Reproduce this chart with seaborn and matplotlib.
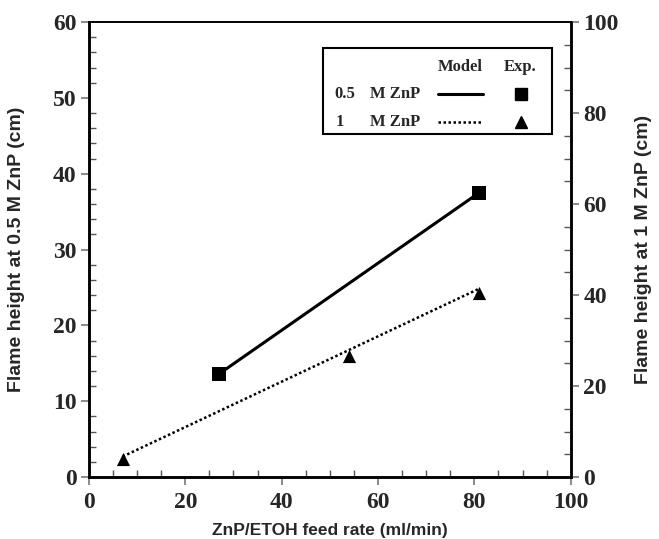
import matplotlib
matplotlib.use("Agg")
import matplotlib.pyplot as plt
from matplotlib.patches import Rectangle
from matplotlib.ticker import MultipleLocator
import seaborn as sns
import pandas as pd

# Model lines (feed rate in ml/min vs flame height in cm)
model_x_05 = [27, 81]
model_y_05 = [13.6, 37.5]
model_x_1 = [7, 81]
model_y_1 = [4.5, 41.4]

# Experimental points
exp_x_05 = [27, 81]
exp_y_05 = [13.6, 37.5]
exp_x_1 = [7, 54, 81]
exp_y_1 = [4.0, 26.5, 40.5]

left_ticks = [0, 10, 20, 30, 40, 50, 60]
right_ticks = [0, 20, 40, 60, 80, 100]
x_ticks = [0, 20, 40, 60, 80, 100]

sns.set_theme(style="white")
plt.rcParams["font.family"] = ["Liberation Serif", "DejaVu Serif"]

fig = plt.figure(figsize=(6.59, 5.39), dpi=100)
ax = fig.add_axes([0.135, 0.115, 0.731, 0.844])
ax2 = ax.twinx()

df_m05 = pd.DataFrame({"x": model_x_05, "y": model_y_05})
df_m1 = pd.DataFrame({"x": model_x_1, "y": model_y_1})
df_e05 = pd.DataFrame({"x": exp_x_05, "y": exp_y_05})
df_e1 = pd.DataFrame({"x": exp_x_1, "y": exp_y_1})

sns.lineplot(data=df_m05, x="x", y="y", ax=ax, color="black", linewidth=2.2)
sns.scatterplot(data=df_e05, x="x", y="y", ax=ax, marker="s", color="black",
                s=95, edgecolor="black", linewidth=0, zorder=5)
sns.lineplot(data=df_m1, x="x", y="y", ax=ax2, color="black", linewidth=1.8)
ax2.lines[0].set_linestyle((0, (1, 1)))
sns.scatterplot(data=df_e1, x="x", y="y", ax=ax2, marker="^", color="black",
                s=90, edgecolor="black", linewidth=0, zorder=5)

ax.set_xlim(0, 100)
ax.set_ylim(0, 60)
ax2.set_ylim(0, 100)
ax.set_xticks(x_ticks)
ax.set_yticks(left_ticks)
ax2.set_yticks(right_ticks)
ax.xaxis.set_minor_locator(MultipleLocator(5))
ax.yaxis.set_minor_locator(MultipleLocator(2))
ax2.yaxis.set_minor_locator(MultipleLocator(5))

tick_font = dict(fontsize=17, fontweight="bold", family="Liberation Serif")
ax.set_xticklabels([str(t) for t in x_ticks], **tick_font)
ax.set_yticklabels([str(t) for t in left_ticks], **tick_font)
ax2.set_yticklabels([str(t) for t in right_ticks], **tick_font)

for a in (ax, ax2):
    a.tick_params(which="major", direction="out", length=6, width=1.2, color="#777777", pad=3)
    a.tick_params(which="minor", direction="in", length=5, width=1.0, color="#555555")
    for sp in a.spines.values():
        sp.set_color("black")
        sp.set_linewidth(1.8)
    a.spines["top"].set_linewidth(1.2)
ax.tick_params(axis="x", which="both", bottom=True)
ax.tick_params(axis="x", which="major", pad=5)
ax.tick_params(axis="y", which="both", left=True)
ax2.tick_params(axis="y", which="both", right=True)

ax.set_xlabel("ZnP/ETOH feed rate (ml/min)", labelpad=7, fontsize=12.5,
              fontweight="bold", family="Liberation Sans")
ax.set_ylabel("Flame height at 0.5 M ZnP (cm)", labelpad=20, fontsize=14,
              fontweight="bold", family="Liberation Sans")
ax2.set_ylabel("Flame height at 1 M ZnP (cm)", labelpad=12, fontsize=14,
               fontweight="bold", family="Liberation Sans")

# Legend table drawn in axes coordinates
tr = ax.transAxes
ax.add_patch(Rectangle((0.485, 0.754), 0.476, 0.189, transform=tr, fill=True,
                       facecolor="white", edgecolor="black", linewidth=1.5, zorder=6))
leg_font = dict(fontsize=12, fontweight="bold", family="Liberation Serif",
                transform=tr, va="center", zorder=7)
ax.text(0.770, 0.901, "Model", ha="center", **leg_font)
ax.text(0.896, 0.901, "Exp.", ha="center", **leg_font)
ax.text(0.510, 0.842, "0.5", ha="left", **leg_font)
ax.text(0.583, 0.842, "M ZnP", ha="left", **leg_font)
ax.text(0.512, 0.780, "1", ha="left", **leg_font)
ax.text(0.583, 0.780, "M ZnP", ha="left", **leg_font)
ax.plot([0.724, 0.817], [0.842, 0.842], transform=tr, color="black", linewidth=2.2, zorder=7)
ax.plot([0.724, 0.817], [0.780, 0.780], transform=tr, color="black", linewidth=1.8,
        linestyle=(0, (1, 1)), zorder=7)
ax.plot([0.896], [0.842], transform=tr, marker="s", color="black", markersize=8,
        linestyle="none", zorder=7)
ax.plot([0.896], [0.780], transform=tr, marker="^", color="black", markersize=8,
        linestyle="none", zorder=7)

fig.savefig("out.png", dpi=100, facecolor="white")
